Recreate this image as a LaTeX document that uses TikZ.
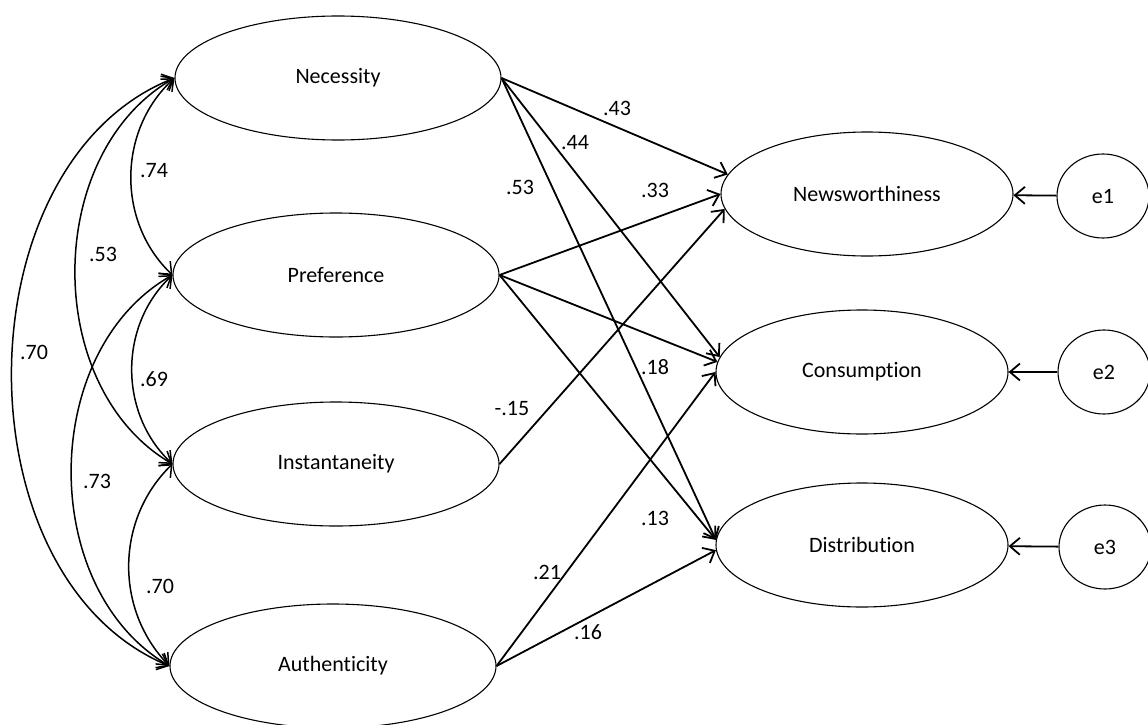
\documentclass[tikz,border=0pt]{standalone}
\usepackage{fontspec}
\setmainfont[Ligatures=NoCommon]{Carlito}
\usetikzlibrary{arrows.meta,shapes.geometric}

\tikzset{
  latent/.style={draw,ellipse,line width=1.1pt,minimum width=326pt,minimum height=124pt,inner sep=0pt},
  outcome/.style={latent,minimum width=292pt},
  errvar/.style={draw,ellipse,line width=1.1pt,minimum width=92pt,minimum height=84pt,inner sep=0pt},
  effect/.style={-{Straight Barb[length=10pt,width=17pt]},line width=1.8pt},
  covar/.style={{Straight Barb[length=10pt,width=17pt]}-{Straight Barb[length=10pt,width=17pt]},line width=1.5pt},
  coef/.style={inner sep=0pt}
}

\begin{document}
\begin{tikzpicture}[x=1pt,y=-1pt,font=\fontsize{22}{26}\selectfont]
    \useasboundingbox (0,0) rectangle (1148,725);

    % predictors
    \node[latent] (nec) at (338,78) {Necessity};
    \node[latent] (pref) at (336,275) {Preference};
    \node[latent] (inst) at (336,464) {Instantaneity};
    \node[latent] (auth) at (333,666) {Authenticity};

    % outcomes and errors
    \node[outcome] (news) at (867,194) {Newsworthiness};
    \node[outcome] (cons) at (862,372) {Consumption};
    \node[outcome] (dist) at (862,545) {Distribution};
    \node[errvar] (e1) at (1103,196) {e1};
    \node[errvar] (e2) at (1104,372) {e2};
    \node[errvar] (e3) at (1105,547) {e3};

    \draw[effect] (e1) -- (news);
    \draw[effect] (e2) -- (cons);
    \draw[effect] (e3) -- (dist);

    % correlations
    \draw[covar] (nec.west) to[bend right=47] (pref.west);
    \draw[covar] (pref.west) to[bend right=47] (inst.west);
    \draw[covar] (inst.west) to[bend right=45] (auth.west);
    \draw[covar] (nec.west) to[bend right=60] (inst.west);
    \draw[covar] (pref.west) to[bend right=60] (auth.west);
    \draw[covar] (nec.west) to[bend right=68] (auth.west);

    \node[coef] (cNP) at (154,171) {.74};
    \node[coef] (cNI) at (103,254) {.53};
    \node[coef] (cNA) at (34,352) {.70};
    \node[coef] (cPI) at (154,379) {.69};
    \node[coef] (cPA) at (97,481) {.73};
    \node[coef] (cIA) at (160,586) {.70};

    % paths
    \draw[effect] (nec.east) -- (news.172);
    \draw[effect] (nec.east) -- (cons.174);
    \draw[effect] (nec.east) -- (dist.178);
    \draw[effect] (pref.east) -- (news.west);
    \draw[effect] (pref.east) -- (cons.176);
    \draw[effect] (pref.east) -- (dist.178);
    \draw[effect] (inst.east) -- (news.186);
    \draw[effect] (auth.east) -- (cons.west);
    \draw[effect] (auth.east) -- (dist.182);

    \node[coef] (bNN) at (617,108) {.43};
    \node[coef] (bNC) at (575,143) {.44};
    \node[coef] (bND) at (520,187) {.53};
    \node[coef] (bPN) at (655,190) {.33};
    \node[coef] (bPC) at (655,367) {.18};
    \node[coef] (bPD) at (655,518) {.13};
    \node[coef] (bIN) at (512,409) {-.15};
    \node[coef] (bAC) at (547,572) {.21};
    \node[coef] (bAD) at (588,632) {.16};
\end{tikzpicture}
\end{document}
